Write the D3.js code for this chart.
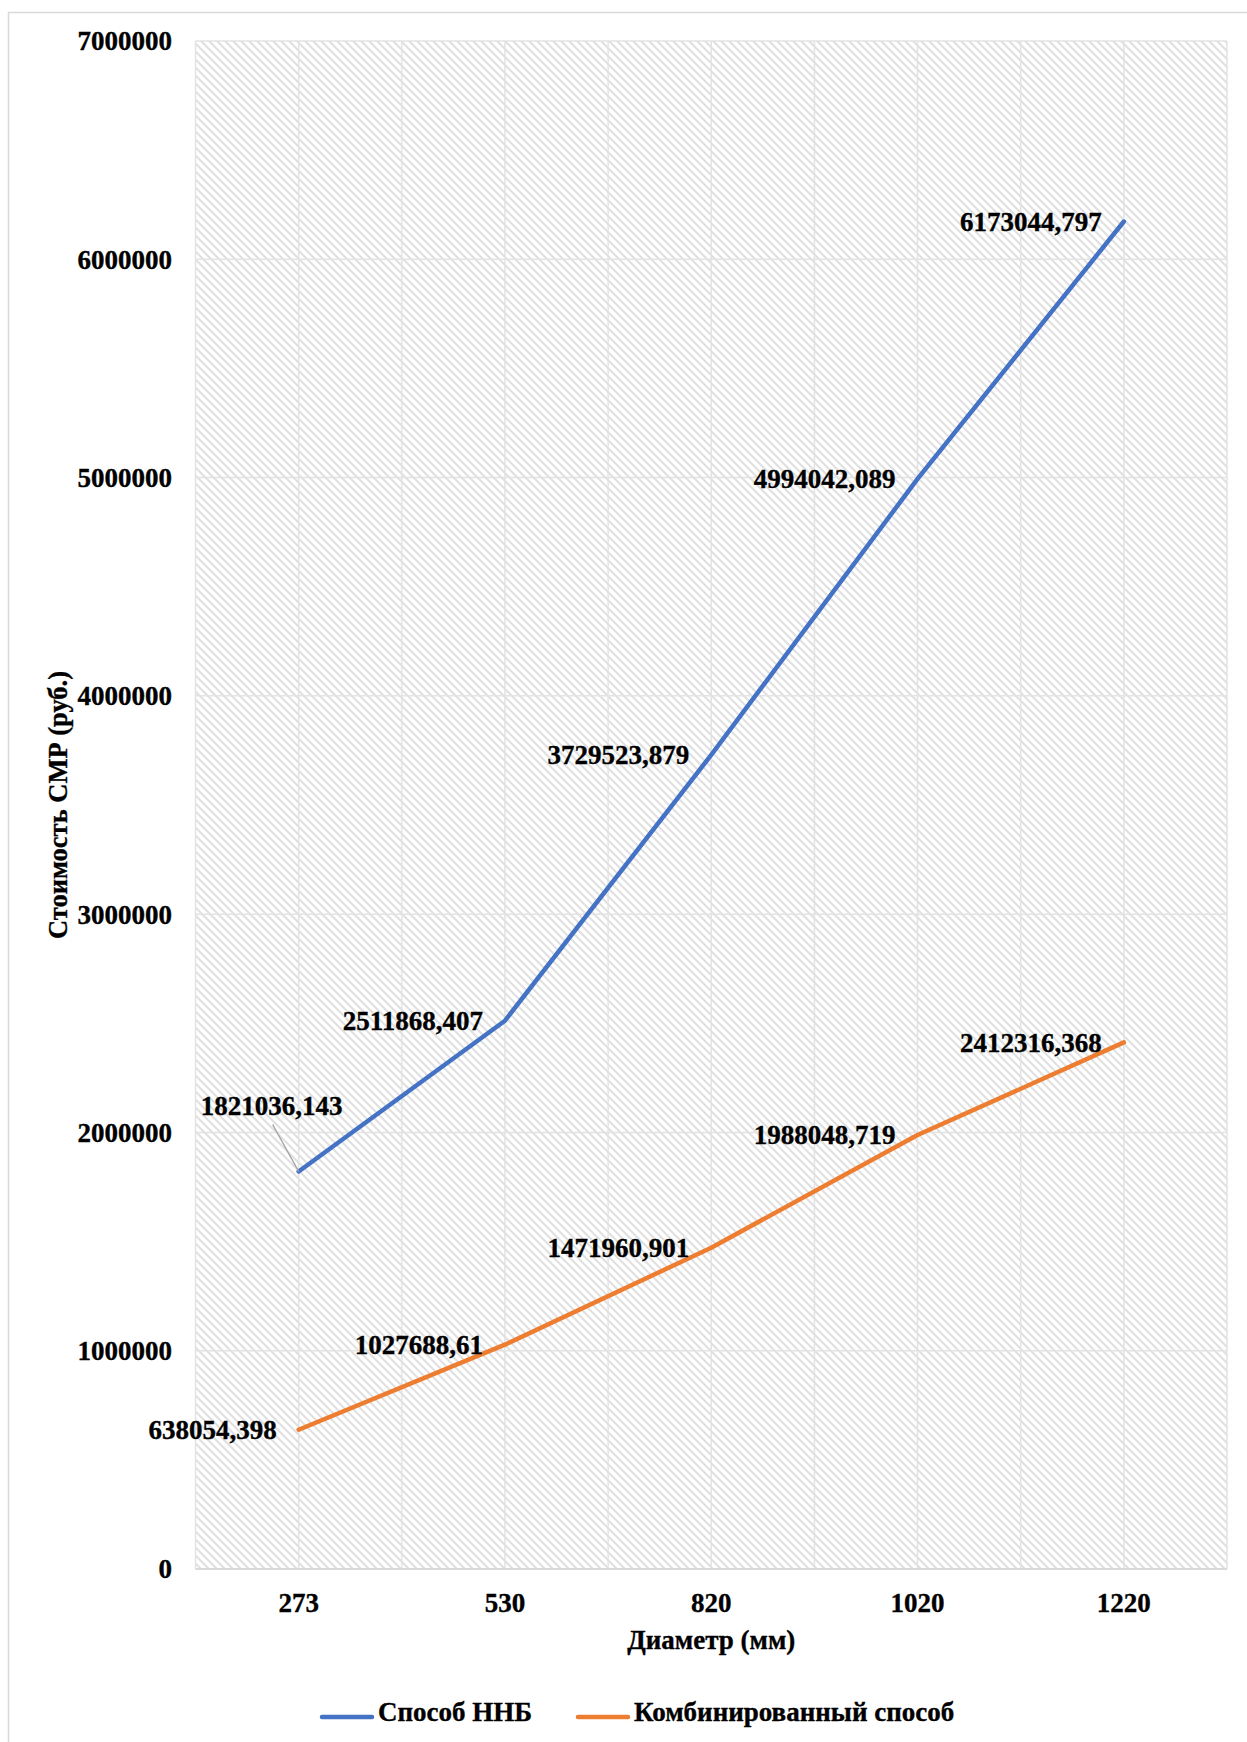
<!DOCTYPE html>
<html lang="ru">
<head>
    <meta charset="UTF-8">
    <title>Стоимость СМР</title>
    <script src="https://d3js.org/d3.v7.min.js"></script>
    <style>
        body {
            margin: 0;
            background: #fff;
        }
        text {
            font-family: "Liberation Serif", "Times New Roman", serif;
            font-weight: bold;
            fill: #000;
            stroke: #000;
            stroke-width: 0.35px;
        }
    </style>
</head>
<body>
    <svg id="chart" width="1247" height="1742"></svg>
    <script>
        // Chart data
        const diameters = ["273", "530", "820", "1020", "1220"];
        const hddCost = [1821036.143, 2511868.407, 3729523.879, 4994042.089, 6173044.797];
        const combinedCost = [638054.398, 1027688.61, 1471960.901, 1988048.719, 2412316.368];
        const yTicks = [0, 1000000, 2000000, 3000000, 4000000, 5000000, 6000000, 7000000];
        const seriesNames = ["Способ ННБ", "Комбинированный способ"];
        const seriesColors = ["#4472C4", "#ED7D31"];

        const width = 1247, height = 1742;
        const plot = { left: 195.5, right: 1227, top: 41, bottom: 1569 };
        const fontSize = 27;

        const svg = d3.select("#chart");

        // outer frame
        svg.append("rect")
            .attr("x", 8.5).attr("y", 12.5)
            .attr("width", 1250).attr("height", 1750)
            .attr("fill", "none")
            .attr("stroke", "#d9d9d9")
            .attr("stroke-width", 1.5);

        // diagonal hatch fill of plot area
        const defs = svg.append("defs");
        defs.append("pattern")
            .attr("id", "hatch")
            .attr("patternUnits", "userSpaceOnUse")
            .attr("width", 8).attr("height", 8)
            .call(p => {
                p.append("rect").attr("width", 8).attr("height", 8).attr("fill", "#fff");
                p.append("path")
                    .attr("d", "M-2,-2L10,10M-2,6L2,10M6,-2L10,2")
                    .attr("stroke", "#e0e0e0")
                    .attr("stroke-width", 2);
            });

        const x = d3.scaleBand().domain(diameters).range([plot.left, plot.right]);
        const y = d3.scaleLinear().domain([0, 7000000]).range([plot.bottom, plot.top]);
        const cx = d => x(d) + x.bandwidth() / 2;

        svg.append("rect")
            .attr("x", plot.left).attr("y", plot.top)
            .attr("width", plot.right - plot.left)
            .attr("height", plot.bottom - plot.top)
            .attr("fill", "url(#hatch)");

        // grid lines
        const vLines = [];
        diameters.forEach(d => { vLines.push(x(d)); vLines.push(cx(d)); });
        vLines.push(plot.right);
        svg.append("g").selectAll("line")
            .data(vLines)
            .join("line")
            .attr("x1", d => d).attr("x2", d => d)
            .attr("y1", plot.top).attr("y2", plot.bottom)
            .attr("stroke", "#e3e3e3")
            .attr("stroke-width", 1.5);

        svg.append("g").selectAll("line")
            .data(yTicks)
            .join("line")
            .attr("x1", plot.left).attr("x2", plot.right)
            .attr("y1", d => y(d)).attr("y2", d => y(d))
            .attr("stroke", d => d === 0 ? "#d9d9d9" : "#e3e3e3")
            .attr("stroke-width", d => d === 0 ? 2 : 1.5);

        // y axis labels
        svg.append("g").selectAll("text")
            .data(yTicks)
            .join("text")
            .attr("x", 172)
            .attr("y", d => y(d))
            .attr("dy", "0.35em")
            .attr("text-anchor", "end")
            .attr("font-size", fontSize)
            .text(d => d);

        // x axis labels
        svg.append("g").selectAll("text")
            .data(diameters)
            .join("text")
            .attr("x", d => cx(d))
            .attr("y", 1603)
            .attr("dy", "0.35em")
            .attr("text-anchor", "middle")
            .attr("font-size", fontSize)
            .text(d => d);

        // axis titles
        svg.append("text")
            .attr("x", (plot.left + plot.right) / 2)
            .attr("y", 1640)
            .attr("dy", "0.35em")
            .attr("text-anchor", "middle")
            .attr("font-size", fontSize)
            .text("Диаметр (мм)");

        svg.append("text")
            .attr("transform", `translate(58,${(plot.top + plot.bottom) / 2}) rotate(-90)`)
            .attr("dy", "0.35em")
            .attr("text-anchor", "middle")
            .attr("font-size", 26.5)
            .text("Стоимость СМР (руб.)");

        // lines
        const line = d3.line().x((v, i) => cx(diameters[i])).y(v => y(v));
        [hddCost, combinedCost].forEach((vals, s) => {
            svg.append("path")
                .datum(vals)
                .attr("d", line)
                .attr("fill", "none")
                .attr("stroke", seriesColors[s])
                .attr("stroke-width", 4.5)
                .attr("stroke-linejoin", "round")
                .attr("stroke-linecap", "round");
        });

        // data labels (placed left of the points)
        const fmt = v => String(v).replace(".", ",");
        [hddCost, combinedCost].forEach((vals, s) => {
            vals.forEach((v, i) => {
                const px = cx(diameters[i]), py = y(v);
                if (s === 0 && i === 0) {
                    // label moved up with a leader line
                    svg.append("line")
                        .attr("x1", px - 26).attr("y1", py - 47)
                        .attr("x2", px).attr("y2", py)
                        .attr("stroke", "#a6a6a6")
                        .attr("stroke-width", 1.5);
                    svg.append("text")
                        .attr("x", px - 27).attr("y", py - 66)
                        .attr("dy", "0.35em")
                        .attr("text-anchor", "middle")
                        .attr("font-size", fontSize)
                        .text(fmt(v));
                    return;
                }
                svg.append("text")
                    .attr("x", px - 22).attr("y", py)
                    .attr("dy", "0.35em")
                    .attr("text-anchor", "end")
                    .attr("font-size", fontSize)
                    .text(fmt(v));
            });
        });

        // legend
        const legendItems = [{ x: 322, tx: 378 }, { x: 578, tx: 634 }];
        legendItems.forEach((it, s) => {
            svg.append("line")
                .attr("x1", it.x).attr("x2", it.x + 50)
                .attr("y1", 1717).attr("y2", 1717)
                .attr("stroke", seriesColors[s])
                .attr("stroke-width", 4.5)
                .attr("stroke-linecap", "round");
            svg.append("text")
                .attr("x", it.tx).attr("y", 1712)
                .attr("dy", "0.35em")
                .attr("font-size", fontSize)
                .text(seriesNames[s]);
        });
    </script>
</body>
</html>
